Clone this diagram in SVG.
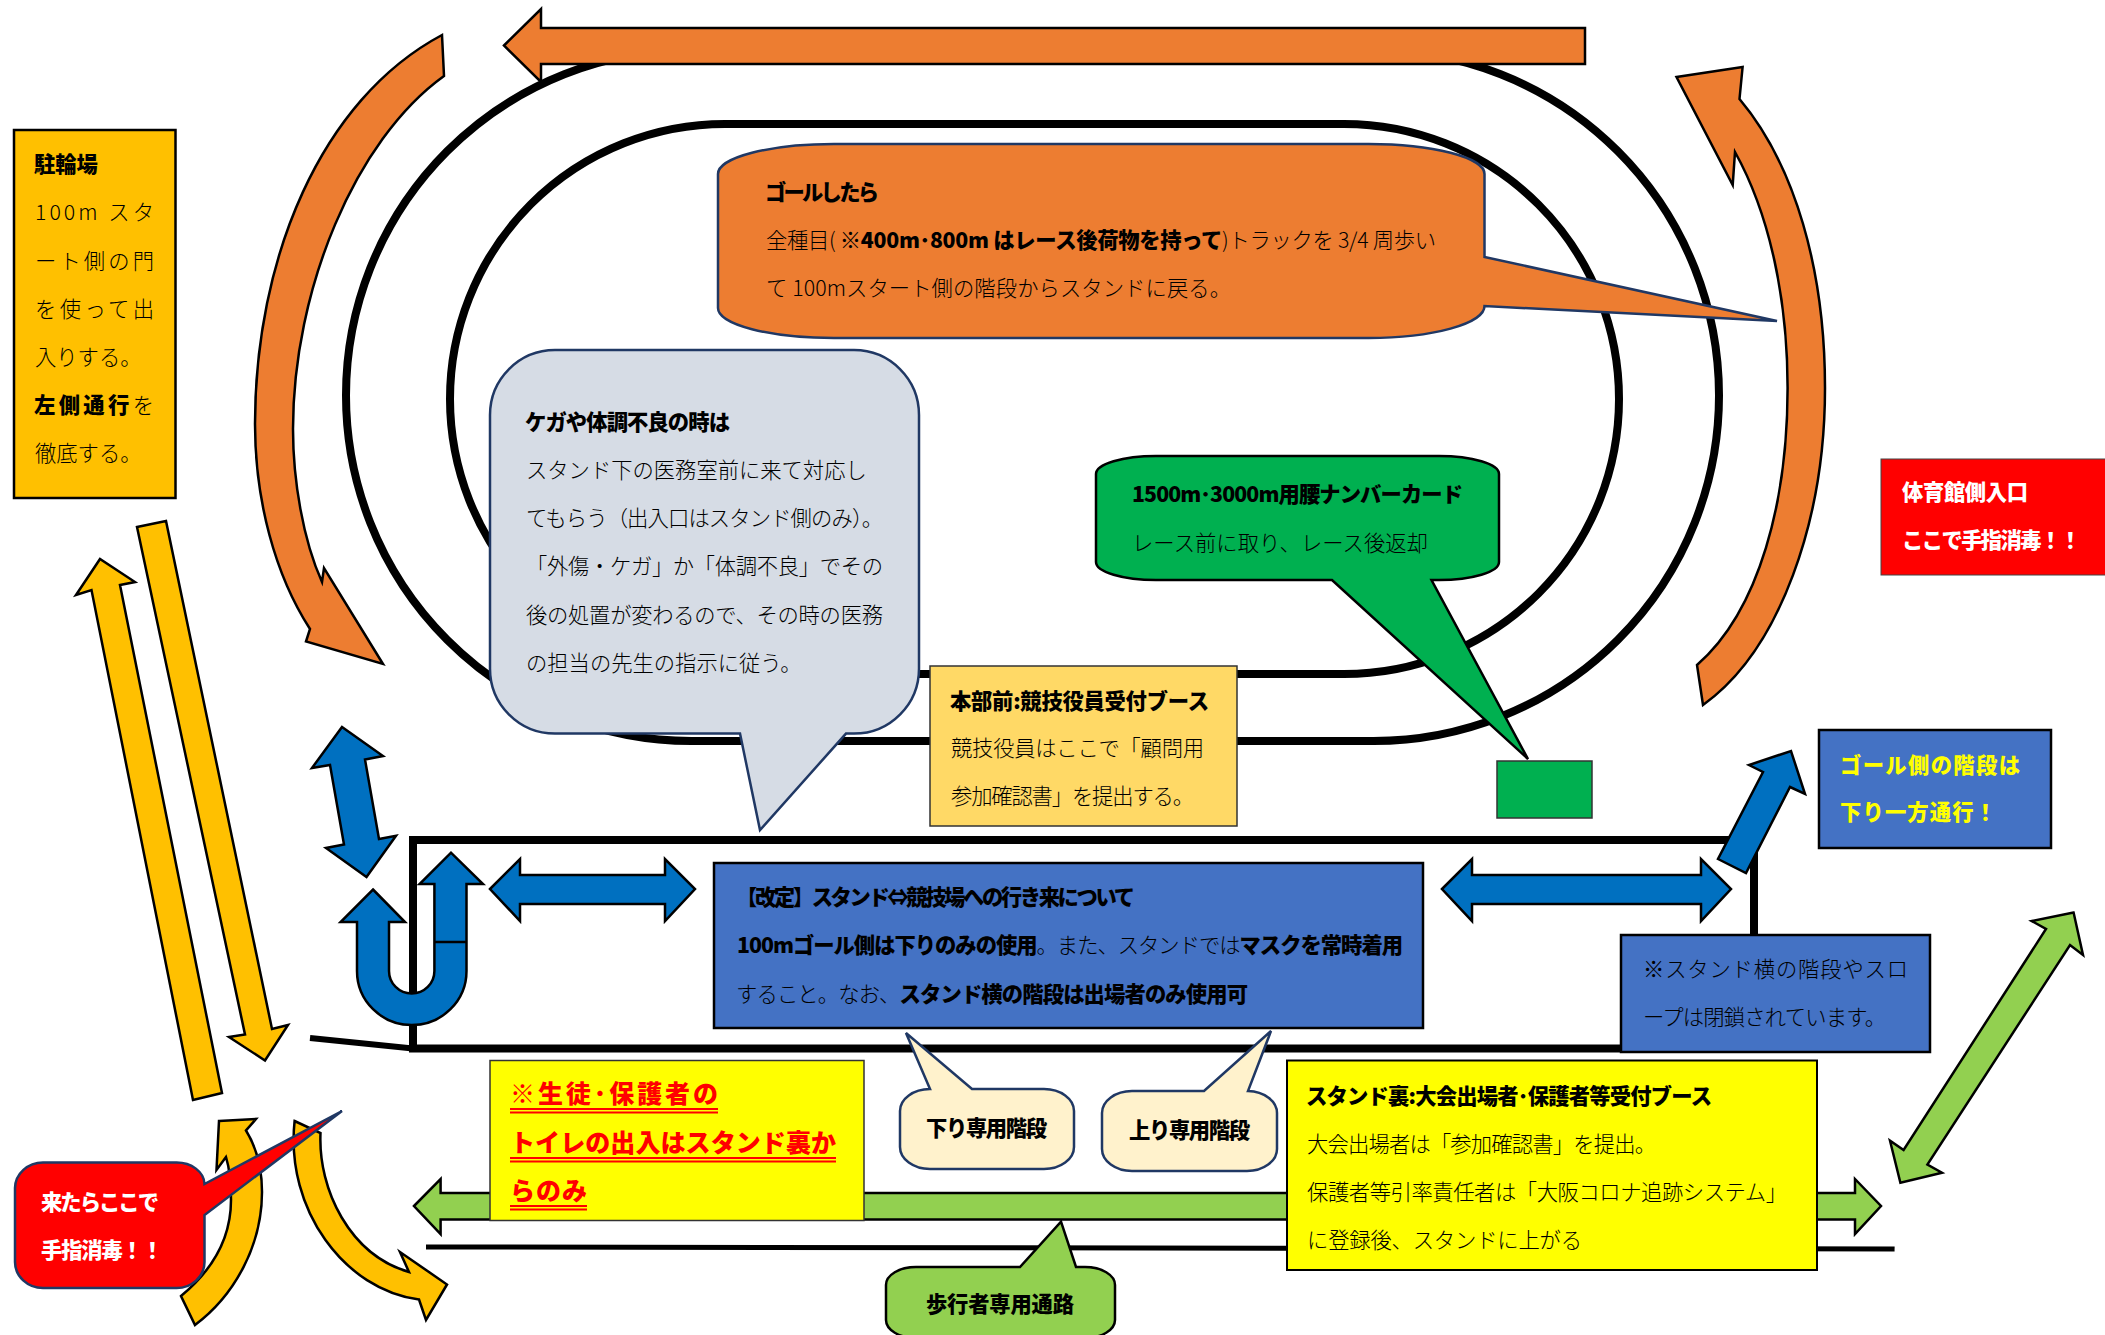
<svg xmlns="http://www.w3.org/2000/svg" width="2105" height="1335" viewBox="0 0 2105 1335">
<style>
text{font-family:"Noto Sans CJK JP","Noto Sans",sans-serif;font-size:21.3px;fill:#000;font-weight:300;transform:translateY(-1px)}
.b{font-weight:900;fill:#000}
.w{font-weight:900;fill:#fff}
.y{font-weight:900;fill:#ff0}
.rd{font-weight:900;fill:#f00;font-size:25px}
.track{fill:none;stroke:#000}
.ar{stroke:#000;stroke-width:2.5;stroke-linejoin:miter}
.or{fill:#ed7d31}.ye{fill:#ffc000}.bl{fill:#0070c0}.gr{fill:#92d050}
.box{stroke:#000;stroke-width:2.5}
.bub{stroke:#203864;stroke-width:2.5;stroke-linejoin:miter}
.ul{stroke:#f00;stroke-width:2;fill:none}
</style>
<rect width="2105" height="1335" fill="#fff"/>
<g id="track">
<rect class="track" x="346" y="50" width="1373" height="691" rx="345.5" ry="345.5" stroke-width="8"/>
<rect class="track" x="450" y="124" width="1169" height="550" rx="275" ry="275" stroke-width="8"/>
</g>
<g id="stand">
<path class="track" d="M310,1038 L413,1048.5" stroke-width="6"/>
<rect class="track" x="413" y="840" width="1341" height="208.500" stroke-width="8"/>
<path d="M426,1247 L1894.6,1249" stroke="#000" stroke-width="5" fill="none"/>
</g>
<g id="connectors">
<path class="ar or" d="M504,45.500 L541,9 V28 H1585 V64 H541 V82 Z"/>
<path class="ar or" d="M442,35 C320,100 255,260 255,424 C255,500 275,575 310,629 L306,641.500 L383,664 L324,568 L322,582 C303,540 293,480 293,429 C293,290 355,140 444,76 Z"/>
<path class="ar or" d="M1742.600,67 L1676.500,77 L1732.700,185 L1735,152 C1770,215 1787.600,300 1787.600,388 C1787.600,500 1760,610 1697,665 L1703,705 C1780,650 1825,520 1825,388 C1825,270 1795,165 1739.500,99 Z"/>
<path class="ar ye" d="M100,559 L76,595 L91.500,590 L193,1100 L222,1093 L120,585 L135,582 Z"/>
<path class="ar ye" d="M137,527 L166,521 L272,1029 L288,1025 L265,1060.500 L229,1037 L245,1034.500 Z"/>
<path class="ar ye" d="M219,1121 L256,1119 L246,1130.500 C258,1150 262,1170 262,1192 C262,1245 235,1295 195,1325 L181,1296 C215,1268 231,1235 231,1200 C231,1185 230,1170 226,1157 L216.500,1170 Z"/>
<path class="ar ye" d="M294.600,1121 L320.500,1133 C318,1190 350,1255 409,1272 L400,1252 L447,1284.500 L426,1320 L419,1299.500 C345,1290 285,1210 294.600,1121 Z"/>
<path class="ar bl" d="M342,727 L383,756 L365,759.500 L379,839 L396,835.700 L366.500,877 L326,848 L344,844.600 L330,765 L312,768 Z"/>
<path class="ar bl" d="M373,889.500 L405,922 H389 V971 A22.700,22.600 0 0 0 434.400,971 V884 H419.600 L451,852.700 L483,884 H466.500 V971 A54.700,54 0 0 1 357,971 V922 H340.600 Z"/>
<path class="ar" d="M434.400,942 H466.500" fill="none"/>
<path class="ar bl" d="M490,889 L520,859 V875 H665 V859 L695,889 L665,921 V904 H520 V921 Z"/>
<path class="ar bl" d="M1442,889 L1472,859 V875 H1701 V859 L1731,889 L1701,921 V904 H1472 V921 Z"/>
<path class="ar bl" d="M1718,859 L1746,873 L1790,787 L1805,794 L1791,751 L1749,765 L1763,772 Z"/>
<path class="ar gr" d="M2073.600,912.600 L2031.700,921 L2046,929 L1903.600,1150 L1890,1140.700 L1900.400,1182.800 L1942,1172.700 L1927.400,1164.600 L2070,945 L2083,955 Z"/>
<path class="ar gr" d="M414,1206 L440.600,1179 V1193 H1855 V1179 L1881,1206 L1855,1234 V1219.600 H440.600 V1234 Z"/>
</g>
<g id="parking">
<rect class="box" x="14" y="130" width="161.500" height="368" fill="#ffc000"/>
<text class="b" x="34" y="173">駐輪場</text>
<text x="35" y="221" textLength="119">100m スタ</text>
<text x="35" y="270" textLength="119">ート側の門</text>
<text x="35" y="318" textLength="119">を使って出</text>
<text x="35" y="366">入りする。</text>
<text x="34" y="414" textLength="120"><tspan class="b">左側通行</tspan>を</text>
<text x="35" y="462">徹底する。</text>
</g>
<g id="goal-note">
<path class="bub" fill="#ed7d31" d="M834,144 H1368.500 A116,30 0 0 1 1484.500,174 V257 L1777,321 L1484.500,306 A116,32 0 0 1 1368.500,338 H834 A116,30 0 0 1 718,308 V174 A116,30 0 0 1 834,144 Z"/>
<text class="b" x="765" y="201" textLength="114">ゴールしたら</text>
<text x="766" y="249" textLength="670">全種目( <tspan class="b">※400m･800m はレース後荷物を持って</tspan>)トラックを 3/4 周歩い</text>
<text x="766" y="297" textLength="465">て 100mスタート側の階段からスタンドに戻る。</text>
</g>
<g id="injury-note">
<path class="bub" fill="#d6dce5" d="M555,350 H854 A65,65 0 0 1 919,415 V668 A65,65 0 0 1 854,733.600 H846 L760,830 L740,733.600 H555 A65,65 0 0 1 490,668 V415 A65,65 0 0 1 555,350 Z"/>
<text class="b" x="525" y="431" textLength="205">ケガや体調不良の時は</text>
<text x="526" y="479">スタンド下の医務室前に来て対応し</text>
<text x="526" y="527" textLength="357">てもらう（出入口はスタンド側のみ）。</text>
<text x="526" y="575" textLength="357">「外傷・ケガ」か「体調不良」でその</text>
<text x="526" y="624" textLength="357">後の処置が変わるので、その時の医務</text>
<text x="526" y="672">の担当の先生の指示に従う。</text>
</g>
<g id="number-card">
<path d="M1160,456 H1439 A60,18 0 0 1 1499,474 V562 A60,18 0 0 1 1439,580 H1431.500 L1528,759 L1332,580 H1156 A60,18 0 0 1 1096,562 V474 A60,18 0 0 1 1156,456 Z" fill="#00b050" stroke="#000" stroke-width="2.500"/>
<text class="b" x="1132" y="503" textLength="331">1500m･3000m用腰ナンバーカード</text>
<text x="1132" y="552" textLength="296">レース前に取り、レース後返却</text>
</g>
<g id="card-place"><rect x="1497" y="761" width="95" height="57" fill="#00b050" stroke="#333" stroke-width="1.500"/></g>
<g id="gym-entrance">
<rect x="1881" y="459" width="226" height="116" fill="#f00" stroke="#444" stroke-width="1"/>
<text class="w" x="1902" y="501" textLength="126">体育館側入口</text>
<text class="w" x="1902" y="549" textLength="179">ここで手指消毒！！</text>
</g>
<g id="officials">
<rect x="930" y="666" width="307" height="160" fill="#ffd966" stroke="#333" stroke-width="1.500"/>
<text class="b" x="950" y="710" textLength="259">本部前:競技役員受付ブース</text>
<text x="951" y="757" textLength="253">競技役員はここで「顧問用</text>
<text x="951" y="805" textLength="243">参加確認書」を提出する。</text>
</g>
<g id="stand-info">
<rect class="box" x="714" y="863" width="709" height="165" fill="#4472c4"/>
<text class="b" x="736" y="906" textLength="399">【改定】スタンド⇔競技場への行き来について</text>
<text x="737" y="954" textLength="666"><tspan class="b">100mゴール側は下りのみの使用</tspan>。また、スタンドでは<tspan class="b">マスクを常時着用</tspan></text>
<text x="736" y="1003" textLength="512">すること。なお、<tspan class="b">スタンド横の階段は出場者のみ使用可</tspan></text>
</g>
<g id="side-closed">
<rect class="box" x="1621" y="935" width="309" height="117" fill="#4472c4"/>
<text x="1643" y="978" textLength="265">※スタンド横の階段やスロ</text>
<text x="1643" y="1026" textLength="243">ープは閉鎖されています。</text>
</g>
<g id="goal-stairs">
<rect class="box" x="1819" y="730" width="232" height="118" fill="#4472c4"/>
<text class="y" x="1840" y="774" textLength="180">ゴール側の階段は</text>
<text class="y" x="1840" y="821" textLength="156">下り一方通行！</text>
</g>
<g id="toilet-note">
<rect x="490" y="1060.500" width="374" height="160" fill="#ff0" stroke="#333" stroke-width="1.500"/>
<text class="rd" x="510" y="1104" textLength="208">※生徒･保護者の</text>
<path class="ul" d="M510,1109 H718 M510,1112.500 H718"/>
<text class="rd" x="510" y="1153" textLength="326">トイレの出入はスタンド裏か</text>
<path class="ul" d="M510,1158 H836 M510,1161.500 H836"/>
<text class="rd" x="510" y="1201" textLength="77">らのみ</text>
<path class="ul" d="M510,1206 H587 M510,1209.500 H587"/>
</g>
<g id="backstand-booth">
<rect x="1287" y="1060.500" width="530" height="209.500" fill="#ff0" stroke="#000" stroke-width="2"/>
<text class="b" x="1306" y="1105" textLength="406">スタンド裏:大会出場者･保護者等受付ブース</text>
<text x="1307" y="1153" textLength="349">大会出場者は「参加確認書」を提出。</text>
<text x="1307" y="1201" textLength="480">保護者等引率責任者は「大阪コロナ追跡システム」</text>
<text x="1307" y="1249" textLength="275">に登録後、スタンドに上がる</text>
</g>
<g id="down-stairs">
<path class="bub" fill="#fff2cc" d="M930,1089 L906,1033 L972,1089 H1044 A30,22 0 0 1 1074,1111 V1147 A30,22 0 0 1 1044,1169 H930 A30,22 0 0 1 900,1147 V1111 A30,22 0 0 1 930,1089 Z"/>
<text class="b" x="926" y="1137" textLength="121">下り専用階段</text>
</g>
<g id="up-stairs">
<path class="bub" fill="#fff2cc" d="M1132,1091 H1204 L1271,1031 L1248,1091 A30,22 0 0 1 1277,1113 V1149 A30,22 0 0 1 1247,1171 H1132 A30,22 0 0 1 1102,1149 V1113 A30,22 0 0 1 1132,1091 Z"/>
<text class="b" x="1129" y="1139" textLength="121">上り専用階段</text>
</g>
<g id="walkway">
<path d="M916,1267 H1020 L1061,1221.700 L1076,1267 H1085 A30,18 0 0 1 1115,1285 V1320 A30,18 0 0 1 1085,1338 H916 A30,18 0 0 1 886,1320 V1285 A30,18 0 0 1 916,1267 Z" fill="#92d050" stroke="#000" stroke-width="2.500"/>
<text class="b" x="926" y="1313" textLength="148">歩行者専用通路</text>
</g>
<g id="arrival-disinfect">
<path class="bub" fill="#f00" d="M43,1162.500 H176 A28,22 0 0 1 204.500,1184 L342,1111 L204.500,1215 V1262 A28,26 0 0 1 176,1288 H43 A28,26 0 0 1 15,1262 V1188 A28,26 0 0 1 43,1162.500 Z"/>
<text class="w" x="41" y="1211" textLength="118">来たらここで</text>
<text class="w" x="41" y="1259" textLength="122">手指消毒！！</text>
</g>
</svg>
